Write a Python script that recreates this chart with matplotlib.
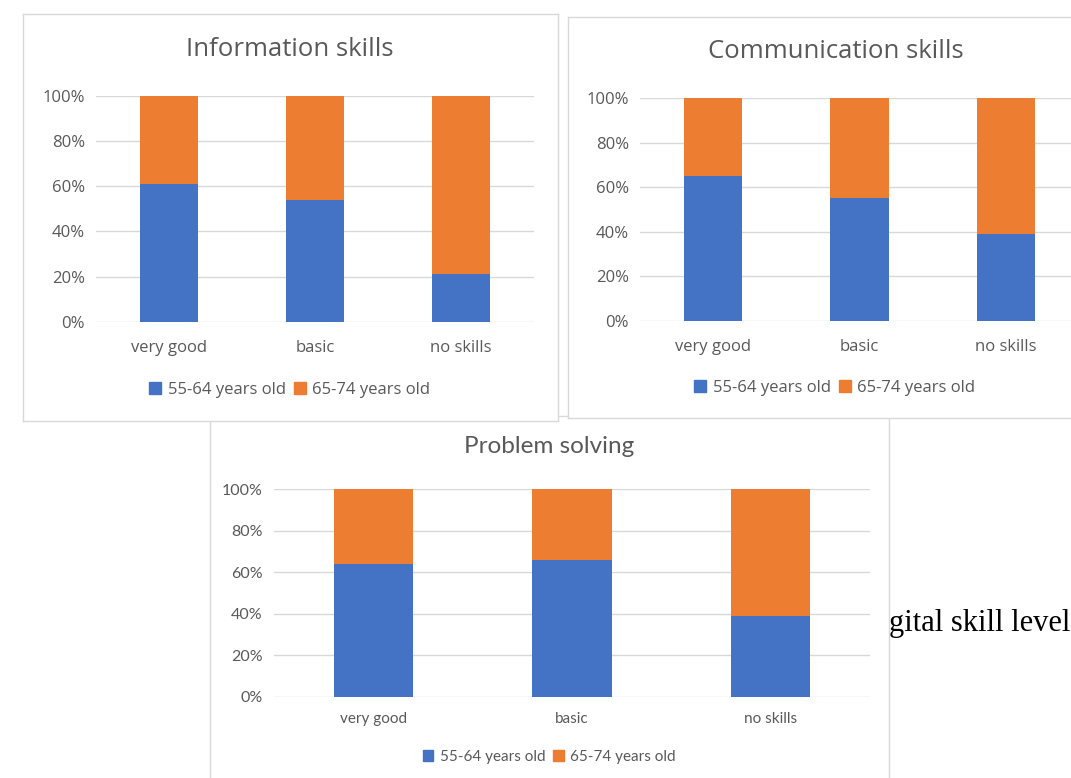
import matplotlib
matplotlib.use("Agg")
import matplotlib.pyplot as plt
from matplotlib.patches import Patch

# ---------------- data ----------------
categories = ["very good", "basic", "no skills"]
series_names = ["55-64 years old", "65-74 years old"]
yticks = [0, 0.2, 0.4, 0.6, 0.8, 1.0]
ytick_labels = ["0%", "20%", "40%", "60%", "80%", "100%"]

info_55 = [0.61, 0.54, 0.21]
info_65 = [0.39, 0.46, 0.79]
comm_55 = [0.65, 0.55, 0.39]
comm_65 = [0.35, 0.45, 0.61]
prob_55 = [0.64, 0.66, 0.39]
prob_65 = [0.36, 0.34, 0.61]

titles = ["Information skills", "Communication skills", "Problem solving"]
background_text = "gital skill level"

# ---------------- style ----------------
W, H = 1071, 778
BLUE = "#4472C4"
ORANGE = "#ED7D31"
GRID = "#D9D9D9"
TXT = "#595959"
BORDER = "#D9D9D9"

fig = plt.figure(figsize=(W / 100, H / 100), dpi=100)
fig.patch.set_facecolor("white")


def fx(x):
    return x / W


def fy(y):
    return 1 - y / H


def rect(x0, y0, x1, y1):
    return [fx(x0), fy(y1), (x1 - x0) / W, (y1 - y0) / H]


# background document text (partly hidden by the bottom chart)
fig.text(fx(889), fy(631), background_text, ha="left", va="baseline",
         fontsize=22, family="Liberation Serif", color="#000000", zorder=0.2)


def panel(box, plot, v55, v65, title, title_xy, title_fs, legend_xy,
          font, tick_fs, xtick_fs, xpad, ypad, leg_fs, z):
    # white panel with thin border
    bg = fig.add_axes(rect(*box), zorder=z)
    bg.set_xticks([])
    bg.set_yticks([])
    bg.set_facecolor("white")
    for s in bg.spines.values():
        s.set_color(BORDER)
        s.set_linewidth(1.0)

    ax = fig.add_axes(rect(*plot), zorder=z + 0.5)
    ax.set_facecolor("none")
    x = list(range(len(categories)))
    ax.bar(x, v55, width=0.4, color=BLUE, zorder=3, label=series_names[0])
    ax.bar(x, v65, width=0.4, bottom=v55, color=ORANGE, zorder=3,
           label=series_names[1])
    ax.set_xlim(-0.5, len(categories) - 0.5)
    ax.set_ylim(0, 1.0)
    ax.set_yticks(yticks)
    ax.set_yticklabels(ytick_labels)
    ax.set_xticks(x)
    ax.set_xticklabels(categories)
    ax.yaxis.grid(True, color=GRID, linewidth=1.0, zorder=0)
    ax.set_axisbelow(True)
    for s in ax.spines.values():
        s.set_visible(False)
    ax.tick_params(axis="both", length=0, colors=TXT)
    ax.tick_params(axis="y", pad=ypad, labelsize=tick_fs)
    ax.tick_params(axis="x", pad=xpad, labelsize=xtick_fs)
    for lab in ax.get_xticklabels() + ax.get_yticklabels():
        lab.set_family(font)
    ax.text(fx(title_xy[0]), fy(title_xy[1]), title, transform=fig.transFigure,
            ha="center", va="center", fontsize=title_fs, color=TXT,
            family=font)
    handles = [Patch(color=BLUE, label=series_names[0]),
               Patch(color=ORANGE, label=series_names[1])]
    ax.legend(handles=handles, loc="center", ncol=2, frameon=False,
              bbox_to_anchor=(fx(legend_xy[0]), fy(legend_xy[1])),
              bbox_transform=fig.transFigure,
              handlelength=0.7, handleheight=0.7, handletextpad=0.4,
              columnspacing=0.5, borderaxespad=0,
              prop={"family": font, "size": leg_fs}, labelcolor=TXT)
    return ax


# bottom chart (behind the two top charts)
panel(box=(210, 416, 889, 800), plot=(274, 489.3, 870, 696.7),
      v55=prob_55, v65=prob_65, title=titles[2], title_xy=(549, 447),
      title_fs=17.5, legend_xy=(549, 757), font="Lato", tick_fs=11.5,
      xtick_fs=11, xpad=11, ypad=8, leg_fs=11, z=1)

# top-left chart
panel(box=(23, 14, 558, 421), plot=(96, 96, 534, 321.7),
      v55=info_55, v65=info_65, title=titles[0], title_xy=(290, 49),
      title_fs=18.5, legend_xy=(290, 390), font="Open Sans", tick_fs=12,
      xtick_fs=12, xpad=13.5, ypad=8, leg_fs=12, z=3)

# top-right chart
panel(box=(568, 17, 1090, 418), plot=(640, 98.3, 1079, 320.7),
      v55=comm_55, v65=comm_65, title=titles[1], title_xy=(836, 51),
      title_fs=18.5, legend_xy=(835, 388), font="Open Sans", tick_fs=12,
      xtick_fs=12, xpad=13, ypad=8, leg_fs=12, z=5)

fig.savefig("out.png", dpi=100, facecolor="white")
